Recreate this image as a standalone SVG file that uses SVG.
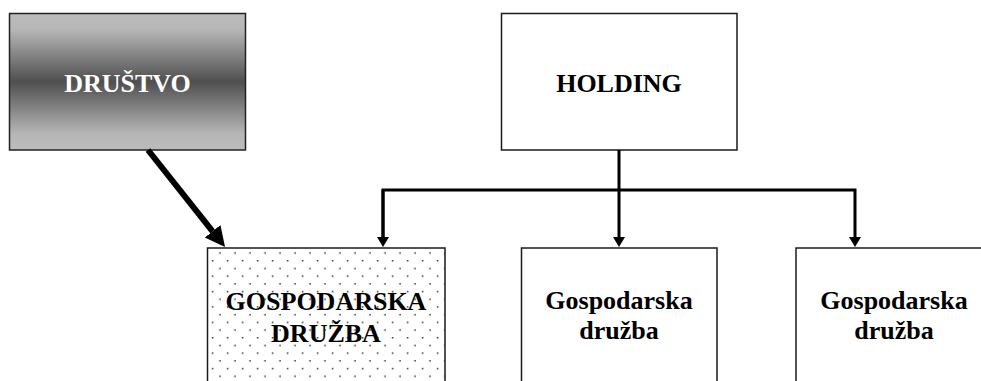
<svg xmlns="http://www.w3.org/2000/svg" width="981" height="381" viewBox="0 0 981 381">
  <style>
    .box { stroke: #1a1a1a; stroke-width: 1.5; fill: #ffffff; }
    .lbl { font-family: "Liberation Serif", "Times New Roman", serif; font-weight: bold; font-size: 26px; text-anchor: middle; fill: #000000; }
    .conn { fill: none; stroke: #000000; stroke-width: 3; stroke-linejoin: miter; }
  </style>
  <defs>
    <linearGradient id="grad" x1="0" y1="0" x2="0" y2="1">
      <stop offset="0" stop-color="#bcbcbc"/>
      <stop offset="0.12" stop-color="#b6b6b6"/>
      <stop offset="0.5" stop-color="#4f4f4f"/>
      <stop offset="0.88" stop-color="#b6b6b6"/>
      <stop offset="1" stop-color="#bcbcbc"/>
    </linearGradient>
    <pattern id="dots" patternUnits="userSpaceOnUse" x="211.8" y="244.6" width="15" height="15.4">
      <rect x="0" y="0" width="15" height="15.4" fill="#ffffff"/>
      <rect x="0" y="0" width="1.5" height="1.5" fill="#333333"/>
      <rect x="7.5" y="7.7" width="1.5" height="1.5" fill="#333333"/>
    </pattern>
    <marker id="ah" markerUnits="userSpaceOnUse" markerWidth="12" markerHeight="14" refX="0" refY="6" orient="auto">
      <path d="M0,0 L10,6 L0,12 z" fill="#000000"/>
    </marker>
    <marker id="ahBig" markerUnits="userSpaceOnUse" markerWidth="22" markerHeight="22" refX="0" refY="10" orient="auto">
      <path d="M0,0 L20,10 L0,20 z" fill="#000000"/>
    </marker>
  </defs>

  <g id="node-drustvo">
    <rect x="9.5" y="13.5" width="236" height="136.5" fill="url(#grad)" stroke="#222222" stroke-width="1.5"/>
    <text class="lbl" x="127.5" y="92" style="fill:#ffffff">DRUŠTVO</text>
  </g>

  <g id="node-holding">
    <rect class="box" x="501.5" y="13.5" width="235.5" height="136.5"/>
    <text class="lbl" x="619" y="92">HOLDING</text>
  </g>

  <g id="node-gd1">
    <rect x="207.5" y="248" width="237.5" height="150" fill="url(#dots)" stroke="#1a1a1a" stroke-width="1.5"/>
    <text class="lbl" x="326" y="310">GOSPODARSKA</text>
    <text class="lbl" x="326" y="342">DRUŽBA</text>
  </g>

  <g id="node-gd2">
    <rect class="box" x="521.5" y="248" width="195.5" height="150"/>
    <text class="lbl" x="619" y="309">Gospodarska</text>
    <text class="lbl" x="619" y="339">družba</text>
  </g>

  <g id="node-gd3">
    <rect class="box" x="796" y="248" width="200" height="150"/>
    <text class="lbl" x="894" y="309">Gospodarska</text>
    <text class="lbl" x="894" y="339">družba</text>
  </g>

  <g id="connectors">
    <path class="conn" d="M383,237 V190 H855 V237" marker-end="url(#ah)"/>
    <path class="conn" d="M383,190 V237" marker-end="url(#ah)"/>
    <path class="conn" d="M619,150 V237" marker-end="url(#ah)"/>
    <path fill="none" stroke="#000000" stroke-width="6" d="M148,150 L212.6,231.3" marker-end="url(#ahBig)"/>
  </g>
</svg>
